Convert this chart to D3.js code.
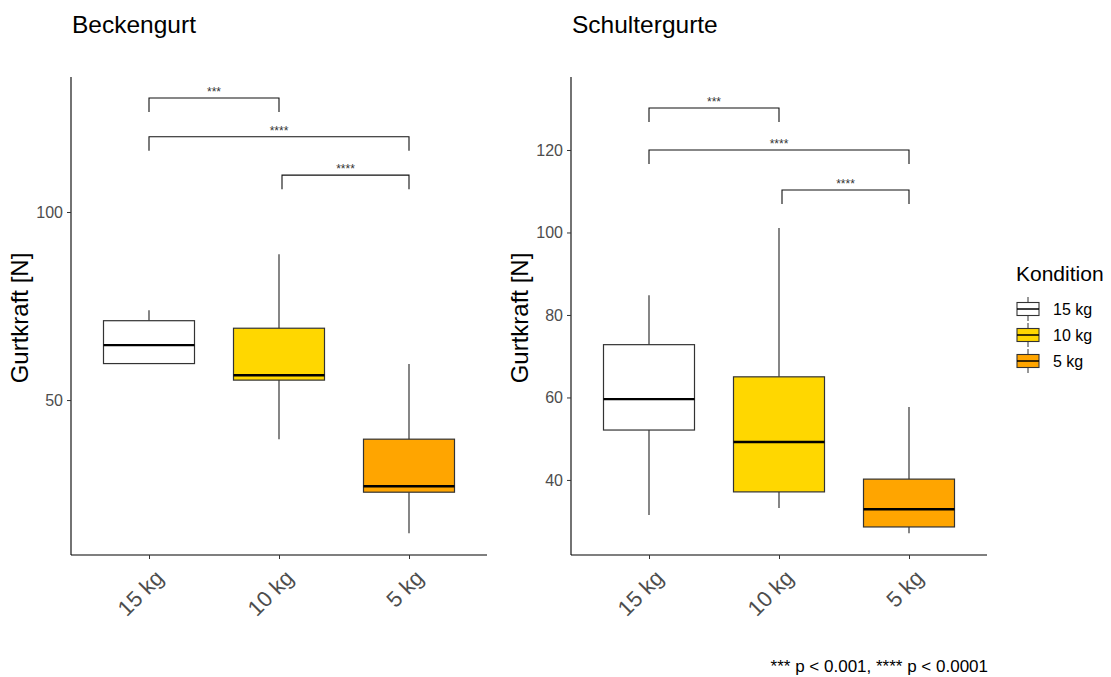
<!DOCTYPE html>
<html><head><meta charset="utf-8">
<script src="https://cdn.jsdelivr.net/npm/d3@7"></script>
<style>body{margin:0;background:#fff}svg{font-family:"Liberation Sans",Arial,sans-serif}</style>
</head><body><svg id="c" width="1111" height="677"></svg>
<script>
const categories = ["15 kg","10 kg","5 kg"];
const fills = ["#FFFFFF","#FFD700","#FFA500"];
// [whiskerLow, Q1, median, Q3, whiskerHigh]
const beckenStats = [
  [59.7, 59.7, 64.6, 71.1, 73.9],
  [39.6, 55.3, 56.6, 69.1, 88.8],
  [14.6, 25.5, 27.1, 39.6, 59.6]
];
const schulterStats = [
  [31.5, 52.1, 59.6, 72.8, 84.8],
  [33.2, 37.1, 49.2, 65.0, 101.1],
  [27.1, 28.6, 32.9, 40.2, 57.7]
];
const beckenTicks = [50, 100];
const schulterTicks = [40, 60, 80, 100, 120];
// [fromIndex, toIndex, yValue, label]
const beckenSig = [[0,1,130.3,"***"],[0,2,120,"****"],[1,2,109.8,"****"]];
const schulterSig = [[0,1,130.2,"***"],[0,2,120,"****"],[1,2,110.3,"****"]];
const beckenDomain = [8.8, 135.9];
const schulterDomain = [21.8, 137.7];
const titles = ["Beckengurt","Schultergurte"];
const yLabel = "Gurtkraft [N]";
const legendTitle = "Kondition";
const caption = "*** p < 0.001, **** p < 0.0001";

const svg = d3.select("#c");

function panel(x0, x1, y0, y1, stats, ticks, dom, sig, title) {
  const g = svg.append("g");
  const x = d3.scalePoint().domain(categories).range([x0, x1]).padding(0.6);
  const y = d3.scaleLinear().domain(dom).range([y1, y0]);
  const bw = x.step() * 0.7;

  g.append("text").attr("x", x0 + 1).attr("y", 33).attr("font-size", 24.5).attr("fill", "#000").text(title);

  stats.forEach((s, i) => {
    const cx = x(categories[i]);
    const bg = g.append("g");
    bg.append("line").attr("x1", cx).attr("x2", cx).attr("y1", y(s[0])).attr("y2", y(s[1])).attr("stroke", "#222").attr("stroke-width", 1.1);
    bg.append("line").attr("x1", cx).attr("x2", cx).attr("y1", y(s[3])).attr("y2", y(s[4])).attr("stroke", "#222").attr("stroke-width", 1.1);
    bg.append("rect").attr("x", cx - bw/2).attr("width", bw).attr("y", y(s[3])).attr("height", y(s[1]) - y(s[3]))
      .attr("fill", fills[i]).attr("stroke", "#333").attr("stroke-width", 1.2);
    bg.append("line").attr("x1", cx - bw/2).attr("x2", cx + bw/2).attr("y1", y(s[2])).attr("y2", y(s[2])).attr("stroke", "#000").attr("stroke-width", 2.4);
  });

  sig.forEach(d => {
    const xa = x(categories[d[0]]) + (d[0] === 1 ? 3 : 0), xb = x(categories[d[1]]);
    const yy = y(d[2]), yt = yy + 14;
    g.append("path").attr("d", `M${xa},${yt}V${yy}H${xb}V${yt}`).attr("fill", "none").attr("stroke", "#111").attr("stroke-width", 1.1);
    g.append("text").attr("x", (xa + xb)/2).attr("y", yy - 2).attr("text-anchor", "middle").attr("font-size", 12).attr("fill", "#333").text(d[3]);
  });

  const ya = g.append("g").attr("transform", `translate(${x0},0)`)
    .call(d3.axisLeft(y).tickValues(ticks).tickSize(4).tickPadding(4).tickFormat(d3.format("d")));
  ya.select(".domain").attr("d", `M0,${y0}V${y1}`).attr("stroke", "#000").attr("stroke-width", 1.1);
  ya.selectAll(".tick line").attr("stroke", "#333");
  ya.selectAll(".tick text").attr("font-size", 16).attr("fill", "#4d4d4d").attr("font-family", "Liberation Sans, Arial, sans-serif");

  const xa = g.append("g").attr("transform", `translate(0,${y1})`)
    .call(d3.axisBottom(x).tickSize(4).tickPadding(3));
  xa.select(".domain").attr("d", `M${x0},0H${x1}`).attr("stroke", "#000").attr("stroke-width", 1.1);
  xa.selectAll(".tick line").attr("stroke", "#333");
  xa.selectAll(".tick text").attr("font-size", 22).attr("fill", "#4d4d4d").attr("font-family", "Liberation Sans, Arial, sans-serif")
    .attr("text-anchor", "end").attr("dy", null).attr("y", 0)
    .attr("transform", "translate(4,13) rotate(-45)").attr("dominant-baseline", "hanging");

  g.append("text").attr("transform", `translate(${x0 - 43},${(y0 + y1)/2 + 2}) rotate(-90)`)
    .attr("text-anchor", "middle").attr("font-size", 24).attr("fill", "#000").text(yLabel);
}

panel(71, 487, 77, 555, beckenStats, beckenTicks, beckenDomain, beckenSig, titles[0]);
panel(571, 987, 77, 555, schulterStats, schulterTicks, schulterDomain, schulterSig, titles[1]);

const lg = svg.append("g");
lg.append("text").attr("x", 1016).attr("y", 281).attr("font-size", 21).attr("fill", "#000").text(legendTitle);
categories.forEach((c, i) => {
  const cy = 309 + i * 26;
  const k = lg.append("g");
  k.append("line").attr("x1", 1028).attr("x2", 1028).attr("y1", cy - 12).attr("y2", cy + 12).attr("stroke", "#333");
  k.append("rect").attr("x", 1017).attr("y", cy - 6.5).attr("width", 22).attr("height", 13).attr("fill", fills[i]).attr("stroke", "#333").attr("stroke-width", 1.1);
  k.append("line").attr("x1", 1017).attr("x2", 1039).attr("y1", cy).attr("y2", cy).attr("stroke", "#000").attr("stroke-width", 1.5);
  k.append("text").attr("x", 1053).attr("y", cy + 6).attr("font-size", 16).attr("fill", "#000").text(c);
});

svg.append("text").attr("x", 988).attr("y", 672).attr("text-anchor", "end").attr("font-size", 17).attr("fill", "#000").text(caption);
</script></body></html>
